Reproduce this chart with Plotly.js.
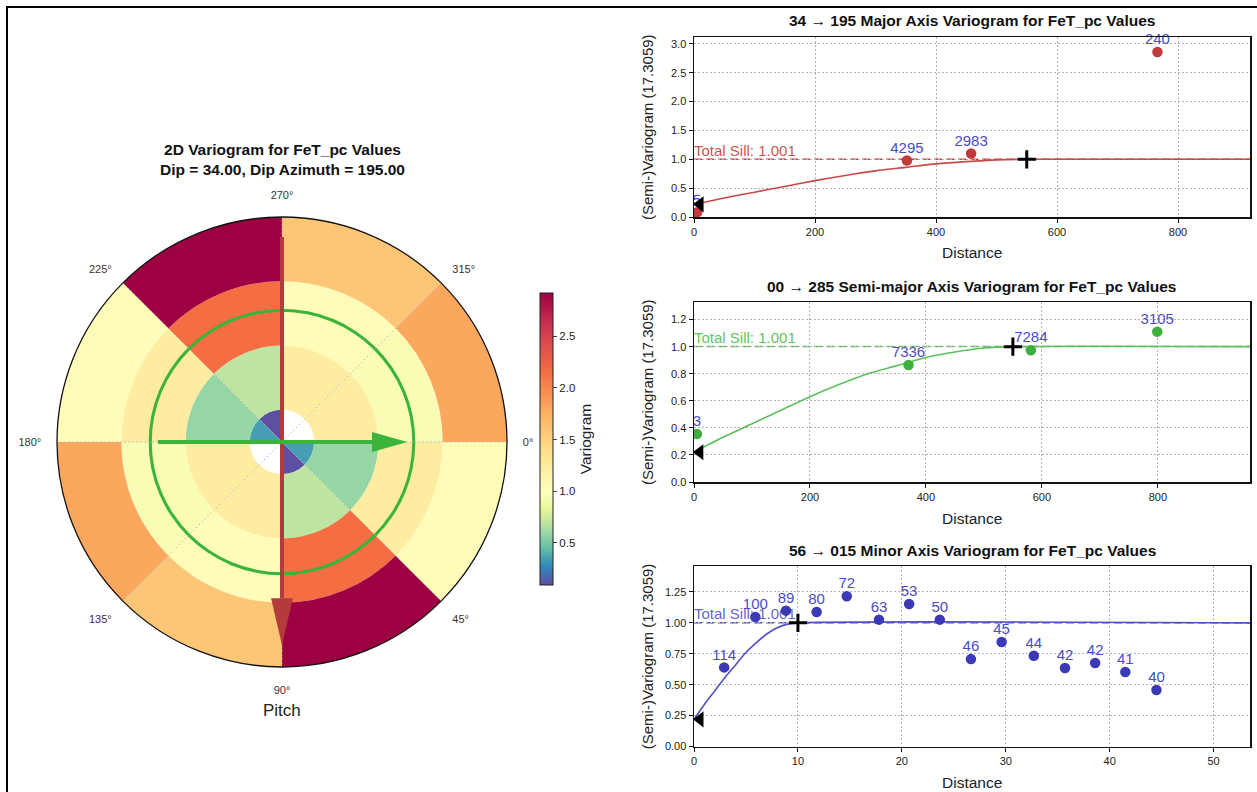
<!DOCTYPE html>
<html><head><meta charset="utf-8">
<script src="https://cdn.plot.ly/plotly-3.0.1.min.js"></script>
<style>html,body{margin:0;padding:0;background:#fff;} #chart{width:1257px;height:792px;}</style>
</head><body><div id="chart"></div>
<script>
// ---------------- 2D polar variogram data ----------------
const sectorCenters = [22.5, 67.5, 112.5, 157.5, 202.5, 247.5, 292.5, 337.5];
const ringLags = [0, 1, 2, 3];
const ring0Values = [0.34, 0.09, null, null, 0.34, 0.09, null, null];
const ring1Values = [0.58, 0.69, 1.23, 1.23, 0.58, 0.69, 1.23, 1.23];
const ring2Values = [1.23, 2.15, 1.04, 0.95, 1.23, 2.15, 1.04, 0.95];
const ring3Values = [1.04, 2.92, 1.58, 1.81, 1.04, 2.92, 1.58, 1.81];
const colorMin = 0.09, colorMax = 2.92, colorCenter = 1.0;
const colorbarTicks = [0.5, 1.0, 1.5, 2.0, 2.5];
const angleTicks = [0, 45, 90, 135, 180, 225, 270, 315];
const angleLabels = ['0°', '45°', '90°', '135°', '180°', '225°', '270°', '315°'];
const sillRadius = 2.05;                 // lag units
const majorArrow = {start: 3.19, base: 2.43, tip: 3.16, half: 0.17};   // 270 -> 90
const semiArrow  = {start: 1.93, base: 1.40, tip: 1.95, half: 0.155};  // 180 -> 0

// ---------------- 1D variograms ----------------
const majorX = [5, 352, 458, 766];
const majorY = [0.08, 0.98, 1.10, 2.86];
const majorN = ['5', '4295', '2983', '240'];
const majorCurveX = [0, 50, 100, 150, 200, 250, 300, 350, 400, 450, 500, 550, 920];
const majorCurveY = [0.22, 0.33, 0.43, 0.53, 0.63, 0.72, 0.80, 0.86, 0.92, 0.96, 0.99, 1.0, 1.0];
const majorRange = 550;

const semiX = [5, 370, 581, 799];
const semiY = [0.355, 0.864, 0.973, 1.111];
const semiN = ['3', '7336', '7284', '3105'];
const semiCurveX = [0, 50, 100, 150, 200, 250, 300, 350, 400, 450, 500, 550, 960];
const semiCurveY = [0.22, 0.33, 0.43, 0.53, 0.63, 0.72, 0.80, 0.86, 0.92, 0.96, 0.99, 1.0, 1.0];
const semiRange = 550;

const minorX = [2.9, 5.9, 8.85, 11.8, 14.7, 17.8, 20.7, 23.65, 26.65, 29.6, 32.7, 35.7, 38.6, 41.5, 44.5];
const minorY = [0.64, 1.048, 1.099, 1.088, 1.215, 1.026, 1.153, 1.026, 0.707, 0.845, 0.734, 0.635, 0.675, 0.602, 0.457];
const minorN = ['114','100','89','80','72','63','53','50','46','45','44','42','42','41','40'];
const minorCurveX = [0, 1, 2, 3, 4, 5, 6, 7, 8, 9, 10, 54];
const minorCurveY = [0.22, 0.34, 0.45, 0.56, 0.66, 0.76, 0.84, 0.91, 0.96, 0.99, 1.0, 1.0];
const minorRange = 10;

const nugget = 0.22;
const totalSill = 1.001;
const nuggetMarkX = [10, 10, 0.58];

const titles = ['34 \u2192 195 Major Axis Variogram for FeT_pc Values',
                '00 \u2192 285 Semi-major Axis Variogram for FeT_pc Values',
                '56 \u2192 015 Minor Axis Variogram for FeT_pc Values'];

// ---------------- helpers ----------------
const W = 1257, H = 792;
const px = x => x / W, py = y => 1 - y / H;
const FONT = 'Liberation Sans, Arial, sans-serif';

const spectral = ['#5e4fa2','#3288bd','#66c2a5','#abdda4','#e6f598','#ffffbf','#fee08b','#fdae61','#f46d43','#d53e4f','#9e0142'];
const mid = (colorCenter - colorMin) / (colorMax - colorMin);
const colorscale = spectral.map((c, i) => [i <= 5 ? (i / 5) * mid : mid + (i - 5) / 5 * (1 - mid), c]);

const traces = [];

// polar cells
const th = [], base = [], rr = [], col = [];
[ring0Values, ring1Values, ring2Values, ring3Values].forEach((vals, k) => {
  const inner = Math.max(0, ringLags[k] - 0.5), outer = ringLags[k] + 0.5;
  vals.forEach((v, j) => {
    if (v === null) return;
    th.push(sectorCenters[j]); base.push(inner); rr.push(outer - inner); col.push(v);
  });
});
traces.push({
  type: 'barpolar', theta: th, base: base, r: rr, width: th.map(() => 45),
  marker: {color: col, colorscale: colorscale, cmin: colorMin, cmax: colorMax, line: {width: 0},
    showscale: true,
    colorbar: {x: px(540), xanchor: 'left', xpad: 0, y: py(439), yanchor: 'middle', ypad: 0,
      len: 292 / H, lenmode: 'fraction', thickness: 13, outlinewidth: 1, outlinecolor: '#222',
      ticks: 'outside', ticklen: 4, tickvals: colorbarTicks, tickformat: '.1f',
      tickfont: {family: FONT, size: 11.5, color: '#222'},
      title: {text: 'Variogram', side: 'right', font: {family: FONT, size: 15.5, color: '#222'}}}},
  hoverinfo: 'skip', showlegend: false
});

// dotted radial grid lines on top of the cells
const gr = [], gt = [];
angleTicks.forEach(a => { gr.push(0, 3.5, null); gt.push(a, a, null); });
traces.push({type: 'scatterpolar', mode: 'lines', r: gr, theta: gt,
  line: {color: '#b4b4b4', width: 1, dash: '1.5px,2.5px'}, hoverinfo: 'skip', showlegend: false});

// sill circle
traces.push({type: 'barpolar', theta: [90, 270], width: [180, 180], base: [sillRadius - 0.024, sillRadius - 0.024],
  r: [0.048, 0.048], marker: {color: '#3cb43c', line: {width: 0}}, hoverinfo: 'skip', showlegend: false});

function polarPts(pts) {
  return {r: pts.map(p => Math.hypot(p[0], p[1])), theta: pts.map(p => Math.atan2(p[1], p[0]) * 180 / Math.PI)};
}
// red arrow (major)
traces.push({type: 'scatterpolar', mode: 'lines', r: [majorArrow.start, majorArrow.base], theta: [270, 90],
  line: {color: '#b33b3b', width: 4}, hoverinfo: 'skip', showlegend: false});
let tri = polarPts([[0, majorArrow.tip], [-majorArrow.half, majorArrow.base], [majorArrow.half, majorArrow.base], [0, majorArrow.tip]]);
traces.push({type: 'scatterpolar', mode: 'lines', r: tri.r, theta: tri.theta, fill: 'toself',
  fillcolor: '#b33b3b', line: {width: 0, color: '#b33b3b'}, hoverinfo: 'skip', showlegend: false});
// green arrow (semi-major)
traces.push({type: 'scatterpolar', mode: 'lines', r: [semiArrow.start, semiArrow.base], theta: [180, 0],
  line: {color: '#3cb43c', width: 4}, hoverinfo: 'skip', showlegend: false});
tri = polarPts([[semiArrow.tip, 0], [semiArrow.base, -semiArrow.half], [semiArrow.base, semiArrow.half], [semiArrow.tip, 0]]);
traces.push({type: 'scatterpolar', mode: 'lines', r: tri.r, theta: tri.theta, fill: 'toself',
  fillcolor: '#3cb43c', line: {width: 0, color: '#3cb43c'}, hoverinfo: 'skip', showlegend: false});

// ---------------- cartesian subplots ----------------
const panels = [
  {x: majorX, y: majorY, n: majorN, cx: majorCurveX, cy: majorCurveY, rng: majorRange, pt: '#c23b3b', ln: '#c94848', sillTxt: 'rgba(196,60,60,0.9)',
   xr: [0, 919], yr: [0, 3.12], xt: [0, 200, 400, 600, 800], ydt: 0.5, yf: '.1f', top: 37, bot: 217},
  {x: semiX, y: semiY, n: semiN, cx: semiCurveX, cy: semiCurveY, rng: semiRange, pt: '#3daf3d', ln: '#5cc05c', sillTxt: 'rgba(70,190,70,0.9)',
   xr: [0, 959], yr: [0, 1.33], xt: [0, 200, 400, 600, 800], ydt: 0.2, yf: '.1f', top: 302, bot: 482},
  {x: minorX, y: minorY, n: minorN, cx: minorCurveX, cy: minorCurveY, rng: minorRange, pt: '#3a3ab8', ln: '#5050c4', sillTxt: 'rgba(70,70,200,0.85)',
   xr: [0, 53.5], yr: [0, 1.46], xt: [0, 10, 20, 30, 40, 50], ydt: 0.25, yf: '.2f', top: 566, bot: 746.5}
];
const layout = {
  width: W, height: H, margin: {l: 0, r: 0, t: 0, b: 0}, paper_bgcolor: '#fff', plot_bgcolor: '#fff',
  font: {family: FONT, color: '#222'}, showlegend: false,
  polar: {domain: {x: [px(57), px(507)], y: [py(667), py(217)]}, bgcolor: '#fff',
    angularaxis: {direction: 'clockwise', rotation: 0, tickmode: 'array', tickvals: angleTicks, ticktext: angleLabels,
      showgrid: false, showline: true, linecolor: '#111', linewidth: 1.3, ticks: 'outside', ticklen: 13, color: '#333',
      tickcolor: 'rgba(0,0,0,0)', tickfont: {family: FONT, size: 11, color: '#333'}},
    radialaxis: {visible: false, range: [0, 3.5]}},
  annotations: [], shapes: []
};
layout.annotations.push({xref: 'paper', yref: 'paper', x: px(282), y: py(160), xanchor: 'center', yanchor: 'middle', showarrow: false,
  text: '<b>2D Variogram for FeT_pc Values</b><br><b>Dip = 34.00, Dip Azimuth = 195.00</b>', font: {family: FONT, size: 15.5, color: '#111'}});
layout.annotations.push({xref: 'paper', yref: 'paper', x: px(282), y: py(710), xanchor: 'center', yanchor: 'middle', showarrow: false,
  text: 'Pitch', font: {family: FONT, size: 17, color: '#222'}});

panels.forEach((p, i) => {
  const k = i === 0 ? '' : String(i + 1);
  const xa = 'x' + k, ya = 'y' + k;
  const axCommon = {showline: true, mirror: true, linecolor: '#111', linewidth: 1.5, ticks: 'outside', ticklen: 4, tickwidth: 1,
    tickcolor: '#111', showgrid: true, gridcolor: '#b4b4b4', griddash: '1.5px,2.5px', gridwidth: 1, zeroline: false,
    tickfont: {family: FONT, size: 11, color: '#222'}};
  layout['xaxis' + k] = Object.assign({}, axCommon, {domain: [px(694), px(1250)], anchor: ya, range: p.xr, tickmode: 'array', tickvals: p.xt});
  layout['yaxis' + k] = Object.assign({}, axCommon, {domain: [py(p.bot), py(p.top)], anchor: xa, range: p.yr, dtick: p.ydt, tick0: 0, tickformat: p.yf});
  // sill label (under points)
  traces.push({type: 'scatter', xaxis: xa, yaxis: ya, mode: 'text', x: [p.xr[0]], y: [totalSill], text: ['Total Sill: ' + totalSill.toFixed(3)],
    textposition: 'top right', textfont: {family: FONT, size: 15, color: p.sillTxt}, cliponaxis: false, hoverinfo: 'skip'});
  // model curve
  traces.push({type: 'scatter', xaxis: xa, yaxis: ya, mode: 'lines', x: p.cx, y: p.cy, line: {color: p.ln, width: 1.6, shape: 'spline', smoothing: 0.8}, hoverinfo: 'skip'});
  // points
  traces.push({type: 'scatter', xaxis: xa, yaxis: ya, mode: 'markers', x: p.x, y: p.y,
    marker: {color: p.pt, size: 10.5}, hoverinfo: 'skip'});
  // pair counts (invisible marker sets the text offset)
  traces.push({type: 'scatter', xaxis: xa, yaxis: ya, mode: 'markers+text', x: p.x, y: p.y, text: p.n, textposition: 'top center',
    marker: {size: 5, opacity: 0}, textfont: {family: FONT, size: 15, color: '#4b4bc9'}, cliponaxis: false, hoverinfo: 'skip'});
  // range cross and nugget triangle
  traces.push({type: 'scatter', xaxis: xa, yaxis: ya, mode: 'markers', x: [p.rng], y: [1.0],
    marker: {symbol: 'cross-thin', size: 13, line: {width: 3, color: '#000'}}, hoverinfo: 'skip'});
  traces.push({type: 'scatter', xaxis: xa, yaxis: ya, mode: 'markers', x: [nuggetMarkX[i]], y: [nugget],
    marker: {symbol: 'triangle-left', size: 14, color: '#000'}, cliponaxis: false, hoverinfo: 'skip'});
  // sill line
  layout.shapes.push({type: 'line', xref: xa + ' domain', yref: ya, x0: 0, x1: 1, y0: totalSill, y1: totalSill,
    line: {color: p.ln, width: 1.5, dash: '8px,4px'}, layer: 'below'});
  // titles
  layout.annotations.push({xref: 'paper', yref: 'paper', x: px(972), y: py(p.top - 16), xanchor: 'center', yanchor: 'middle', showarrow: false,
    text: '<b>' + titles[i] + '</b>', font: {family: FONT, size: 15.5, color: '#111'}});
  layout.annotations.push({xref: 'paper', yref: 'paper', x: px(972), y: py(p.bot + 36), xanchor: 'center', yanchor: 'middle', showarrow: false,
    text: 'Distance', font: {family: FONT, size: 15.5, color: '#222'}});
  layout.annotations.push({xref: 'paper', yref: 'paper', x: px(647), y: py((p.top + p.bot) / 2), xanchor: 'center', yanchor: 'middle', showarrow: false,
    textangle: -90, text: '(Semi-)Variogram (17.3059)', font: {family: FONT, size: 15, color: '#222'}});
});

// outer figure frame
layout.shapes.push({type: 'rect', xref: 'paper', yref: 'paper', x0: px(7), y0: py(7), x1: px(1275), y1: py(810),
  line: {color: '#000', width: 2}, fillcolor: 'rgba(0,0,0,0)'});

Plotly.newPlot('chart', traces, layout, {staticPlot: true});
</script></body></html>
